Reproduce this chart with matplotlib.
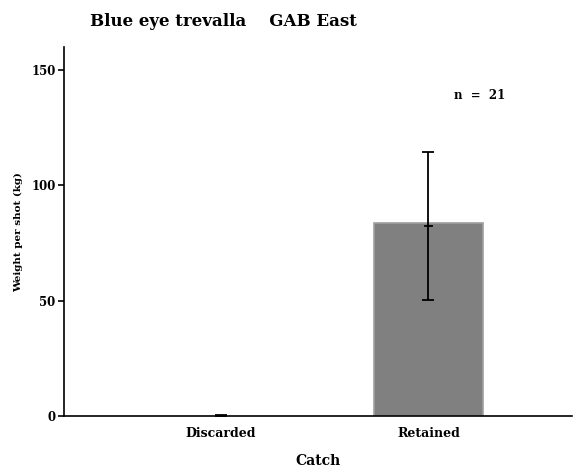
import matplotlib
matplotlib.use("Agg")
import matplotlib.pyplot as plt
import numpy as np

categories = ["Discarded", "Retained"]
means = [0.2, 83.5]
cap_mid = [0.2, 82.5]
lower = [0.0, 50.5]
upper = [0.4, 114.5]
n_label = "n  =  21"
title = "Blue eye trevalla    GAB East"
yticks = [0, 50, 100, 150]

plt.rcParams['font.family'] = ['DejaVu Serif']
plt.rcParams['font.weight'] = 'bold'

fig = plt.figure(figsize=(5.8, 4.75), dpi=100)
ax = fig.add_axes([0.110, 0.124, 0.876, 0.777])

x = np.arange(len(categories))
ax.bar(x[1:], means[1:], width=0.52, color="#808080", edgecolor="#a0a0a0", linewidth=1.2, zorder=2)
for xi, m, lo, hi in zip(x, cap_mid, lower, upper):
    ax.errorbar([xi], [m], yerr=[[m - lo], [hi - m]], fmt='none', ecolor='black',
                elinewidth=1.3, capsize=4, capthick=1.3, zorder=3)
    ax.plot([xi - 0.015, xi + 0.015], [m, m], color='black', lw=1.3, zorder=3)

ax.set_xlim(-0.755, 1.69)
ax.set_ylim(0, 160)
ax.set_yticks(yticks)
ax.set_xticks(x)
ax.set_xticklabels(categories, fontsize=9, fontweight='bold')
ax.tick_params(axis='x', length=0, pad=8)
ax.tick_params(axis='y', length=4, width=1.2, labelsize=8.5, pad=2)
for s in ['top', 'right']:
    ax.spines[s].set_visible(False)
for s in ['left', 'bottom']:
    ax.spines[s].set_linewidth(1.2)

ax.set_xlabel("Catch", fontsize=10, fontweight='bold', labelpad=10)
ax.set_ylabel("Weight per shot (kg)", fontsize=7.5, fontweight='bold', labelpad=6)
fig.text(0.386, 0.955, title, fontsize=12, fontweight='bold', ha='center', va='center')
ax.text(1.125, 139, n_label, fontsize=8.5, fontweight='bold', ha='left', va='center')

fig.savefig("out.png", dpi=100)
